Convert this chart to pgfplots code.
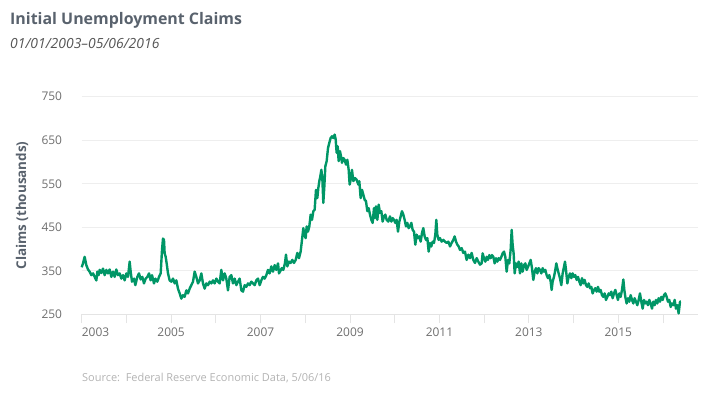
\documentclass[border=0pt]{standalone}
\usepackage{fontspec}
\setmainfont{Open Sans}
\usepackage{pgfplots}
\pgfplotsset{compat=1.18}
\usepackage{pgfplotstable}
\definecolor{linegreen}{RGB}{0,150,102}
\definecolor{titlegray}{HTML}{59626D}
\definecolor{subgray}{HTML}{555555}
\definecolor{tickgray}{HTML}{6E6E6E}
\definecolor{srcgray}{HTML}{B3B3B3}
\definecolor{gridgray}{HTML}{EEEEEE}
\definecolor{basegray}{HTML}{E4E4E4}

\pgfplotstableread{
year claims
2003.000 358
2003.029 367
2003.066 382
2003.104 363
2003.141 353
2003.178 348
2003.215 340
2003.253 344
2003.290 336
2003.327 328
2003.350 348
2003.379 340
2003.402 352
2003.439 345
2003.476 355
2003.514 340
2003.551 352
2003.588 344
2003.625 353
2003.663 336
2003.700 348
2003.737 336
2003.774 353
2003.812 340
2003.849 344
2003.886 332
2003.924 340
2003.961 328
2003.998 344
2004.035 336
2004.073 371
2004.095 348
2004.125 325
2004.170 332
2004.199 317
2004.244 336
2004.281 344
2004.319 330
2004.356 336
2004.393 321
2004.430 332
2004.468 336
2004.505 344
2004.542 328
2004.572 340
2004.617 321
2004.647 332
2004.691 325
2004.729 336
2004.766 344
2004.796 398
2004.818 424
2004.840 421
2004.855 390
2004.878 382
2004.900 367
2004.930 344
2004.967 328
2005.004 325
2005.042 332
2005.079 321
2005.116 328
2005.153 309
2005.191 298
2005.228 286
2005.265 294
2005.302 290
2005.340 305
2005.377 298
2005.414 309
2005.452 317
2005.489 325
2005.526 348
2005.563 336
2005.601 321
2005.638 328
2005.675 344
2005.712 321
2005.750 309
2005.787 321
2005.824 317
2005.862 325
2005.899 321
2005.936 328
2005.973 321
2006.011 332
2006.048 325
2006.085 321
2006.122 352
2006.160 328
2006.197 344
2006.234 332
2006.271 305
2006.309 336
2006.346 340
2006.383 321
2006.421 332
2006.458 317
2006.495 325
2006.532 332
2006.570 305
2006.607 302
2006.644 317
2006.681 313
2006.719 321
2006.756 317
2006.793 325
2006.831 321
2006.868 317
2006.905 328
2006.942 332
2006.980 317
2007.017 328
2007.054 336
2007.091 332
2007.129 340
2007.166 352
2007.203 344
2007.240 360
2007.278 348
2007.315 363
2007.352 352
2007.390 367
2007.412 344
2007.434 348
2007.472 356
2007.509 352
2007.546 368
2007.568 387
2007.598 360
2007.636 371
2007.673 368
2007.710 375
2007.747 368
2007.785 375
2007.822 391
2007.859 379
2007.896 394
2007.926 421
2007.956 448
2007.978 433
2008.008 425
2008.031 452
2008.060 440
2008.090 452
2008.120 479
2008.150 467
2008.180 487
2008.209 490
2008.239 536
2008.269 517
2008.291 540
2008.314 556
2008.336 567
2008.359 582
2008.381 563
2008.403 506
2008.426 544
2008.448 590
2008.478 602
2008.508 632
2008.537 644
2008.567 655
2008.597 659
2008.627 655
2008.657 663
2008.679 652
2008.701 621
2008.724 636
2008.746 602
2008.776 625
2008.798 613
2008.821 598
2008.850 609
2008.880 605
2008.910 594
2008.940 605
2008.970 582
2008.992 548
2009.022 563
2009.044 582
2009.074 556
2009.111 563
2009.149 559
2009.186 548
2009.208 556
2009.238 517
2009.268 536
2009.298 525
2009.328 513
2009.357 510
2009.387 487
2009.417 494
2009.447 479
2009.477 467
2009.506 460
2009.536 494
2009.559 471
2009.581 498
2009.611 467
2009.641 502
2009.670 483
2009.700 487
2009.730 463
2009.760 475
2009.790 479
2009.819 467
2009.857 463
2009.894 475
2009.924 463
2009.954 471
2009.984 467
2010.013 460
2010.043 467
2010.073 440
2010.103 463
2010.133 475
2010.162 487
2010.192 479
2010.222 467
2010.252 452
2010.282 460
2010.311 448
2010.341 452
2010.371 460
2010.401 444
2010.431 440
2010.460 410
2010.490 433
2010.520 425
2010.550 429
2010.580 417
2010.610 437
2010.639 448
2010.669 429
2010.699 421
2010.729 425
2010.759 394
2010.788 414
2010.818 406
2010.848 417
2010.878 414
2010.908 433
2010.930 467
2010.952 433
2010.982 421
2011.012 425
2011.049 417
2011.087 421
2011.124 417
2011.161 414
2011.199 417
2011.236 406
2011.273 414
2011.310 421
2011.340 429
2011.370 417
2011.400 410
2011.430 406
2011.459 398
2011.497 402
2011.534 391
2011.571 394
2011.608 375
2011.646 387
2011.683 379
2011.720 391
2011.757 375
2011.795 368
2011.832 379
2011.869 371
2011.907 364
2011.944 367
2011.966 390
2011.996 379
2012.026 371
2012.056 382
2012.085 375
2012.115 386
2012.145 379
2012.175 386
2012.205 382
2012.235 367
2012.264 379
2012.294 371
2012.324 379
2012.354 375
2012.384 382
2012.413 390
2012.443 394
2012.473 382
2012.503 348
2012.533 375
2012.562 367
2012.592 398
2012.615 444
2012.637 409
2012.659 390
2012.682 344
2012.712 367
2012.741 359
2012.771 371
2012.801 344
2012.831 367
2012.861 348
2012.891 363
2012.920 367
2012.950 352
2012.980 359
2013.010 367
2013.040 375
2013.069 356
2013.099 329
2013.129 348
2013.159 356
2013.189 344
2013.218 356
2013.248 352
2013.278 344
2013.308 356
2013.338 348
2013.368 352
2013.397 340
2013.427 333
2013.457 340
2013.487 325
2013.509 306
2013.531 325
2013.561 336
2013.591 352
2013.613 367
2013.636 356
2013.666 344
2013.695 333
2013.725 317
2013.755 344
2013.785 359
2013.807 371
2013.830 352
2013.860 321
2013.889 336
2013.919 344
2013.949 333
2013.979 344
2014.009 336
2014.038 340
2014.068 329
2014.098 336
2014.128 325
2014.158 317
2014.188 333
2014.217 321
2014.247 329
2014.277 317
2014.307 313
2014.337 321
2014.366 310
2014.396 313
2014.426 298
2014.456 306
2014.486 310
2014.515 302
2014.545 313
2014.575 302
2014.605 306
2014.635 294
2014.664 290
2014.694 298
2014.724 283
2014.754 290
2014.784 298
2014.813 294
2014.843 302
2014.873 287
2014.903 298
2014.933 306
2014.963 294
2014.992 283
2015.022 298
2015.052 290
2015.082 306
2015.112 330
2015.134 306
2015.156 290
2015.186 275
2015.216 287
2015.246 279
2015.276 294
2015.306 283
2015.335 275
2015.365 287
2015.395 279
2015.425 271
2015.455 283
2015.484 298
2015.514 279
2015.544 263
2015.574 283
2015.604 275
2015.634 279
2015.663 271
2015.693 283
2015.723 275
2015.753 263
2015.783 279
2015.812 271
2015.842 283
2015.872 275
2015.902 287
2015.932 279
2015.961 290
2015.991 283
2016.021 294
2016.051 298
2016.081 290
2016.110 279
2016.140 283
2016.170 267
2016.200 275
2016.230 271
2016.260 283
2016.289 263
2016.319 271
2016.349 252
2016.379 279
2016.401 279
}\claimsdata

\begin{document}
\begin{tikzpicture}
\useasboundingbox (0,0) rectangle (708bp,394bp);
\node[anchor=base west, inner sep=0, font=\bfseries\fontsize{16}{19}\selectfont, text=titlegray] at (10bp,369bp) {Initial Unemployment Claims};
\node[anchor=base west, inner sep=0, font=\itshape\fontsize{14}{17}\selectfont, text=subgray] at (10bp,345.2bp) {01/01/2003–05/06/2016};
\node[rotate=90, inner sep=0, font=\bfseries\fontsize{13.5}{16}\selectfont, text=titlegray] at (22bp,188.5bp) {Claims (thousands)};
\node[anchor=base west, inner sep=0, font=\fontsize{11}{13}\selectfont, text=srcgray] at (82bp,13bp) {Source:\ \ Federal Reserve Economic Data, 5/06/16};
\begin{axis}[
  at={(81.7bp,79.7bp)}, anchor=south west,
  scale only axis, width=616bp, height=217.6bp,
  xmin=2003, xmax=2016.775, ymin=250, ymax=750,
  axis line style={draw=none},
  ymajorgrids, grid style={color=gridgray, line width=1bp},
  ytick={250,350,450,550,650,750},
  ytick style={draw=none},
  yticklabel style={anchor=east, inner sep=0pt, xshift=-10.5bp, text=tickgray, font=\fontsize{12}{14}\selectfont},
  xtick={2004,2005,...,2016},
  xticklabels={,2005,,2007,,2009,,2011,,2013,,2015,},
  extra x ticks={2003},
  extra x tick labels={2003},
  extra x tick style={xticklabel style={anchor=north west}},
  xtick pos=bottom, tick align=outside, major tick length=9bp,
  x tick style={color=basegray, line width=1bp},
  xticklabel style={inner sep=0pt, yshift=-4bp, text=tickgray, font=\fontsize{12}{14}\selectfont},
  /pgf/number format/assume math mode=true,
  scaled x ticks=false, scaled y ticks=false,
  clip=false,
]
\draw[basegray, line width=1.5bp] (rel axis cs:0,0) -- (rel axis cs:1,0);
\addplot[color=linegreen, line width=2.4bp, line join=round, no marks] table[x=year, y=claims] {\claimsdata};
\end{axis}
\end{tikzpicture}
\end{document}
